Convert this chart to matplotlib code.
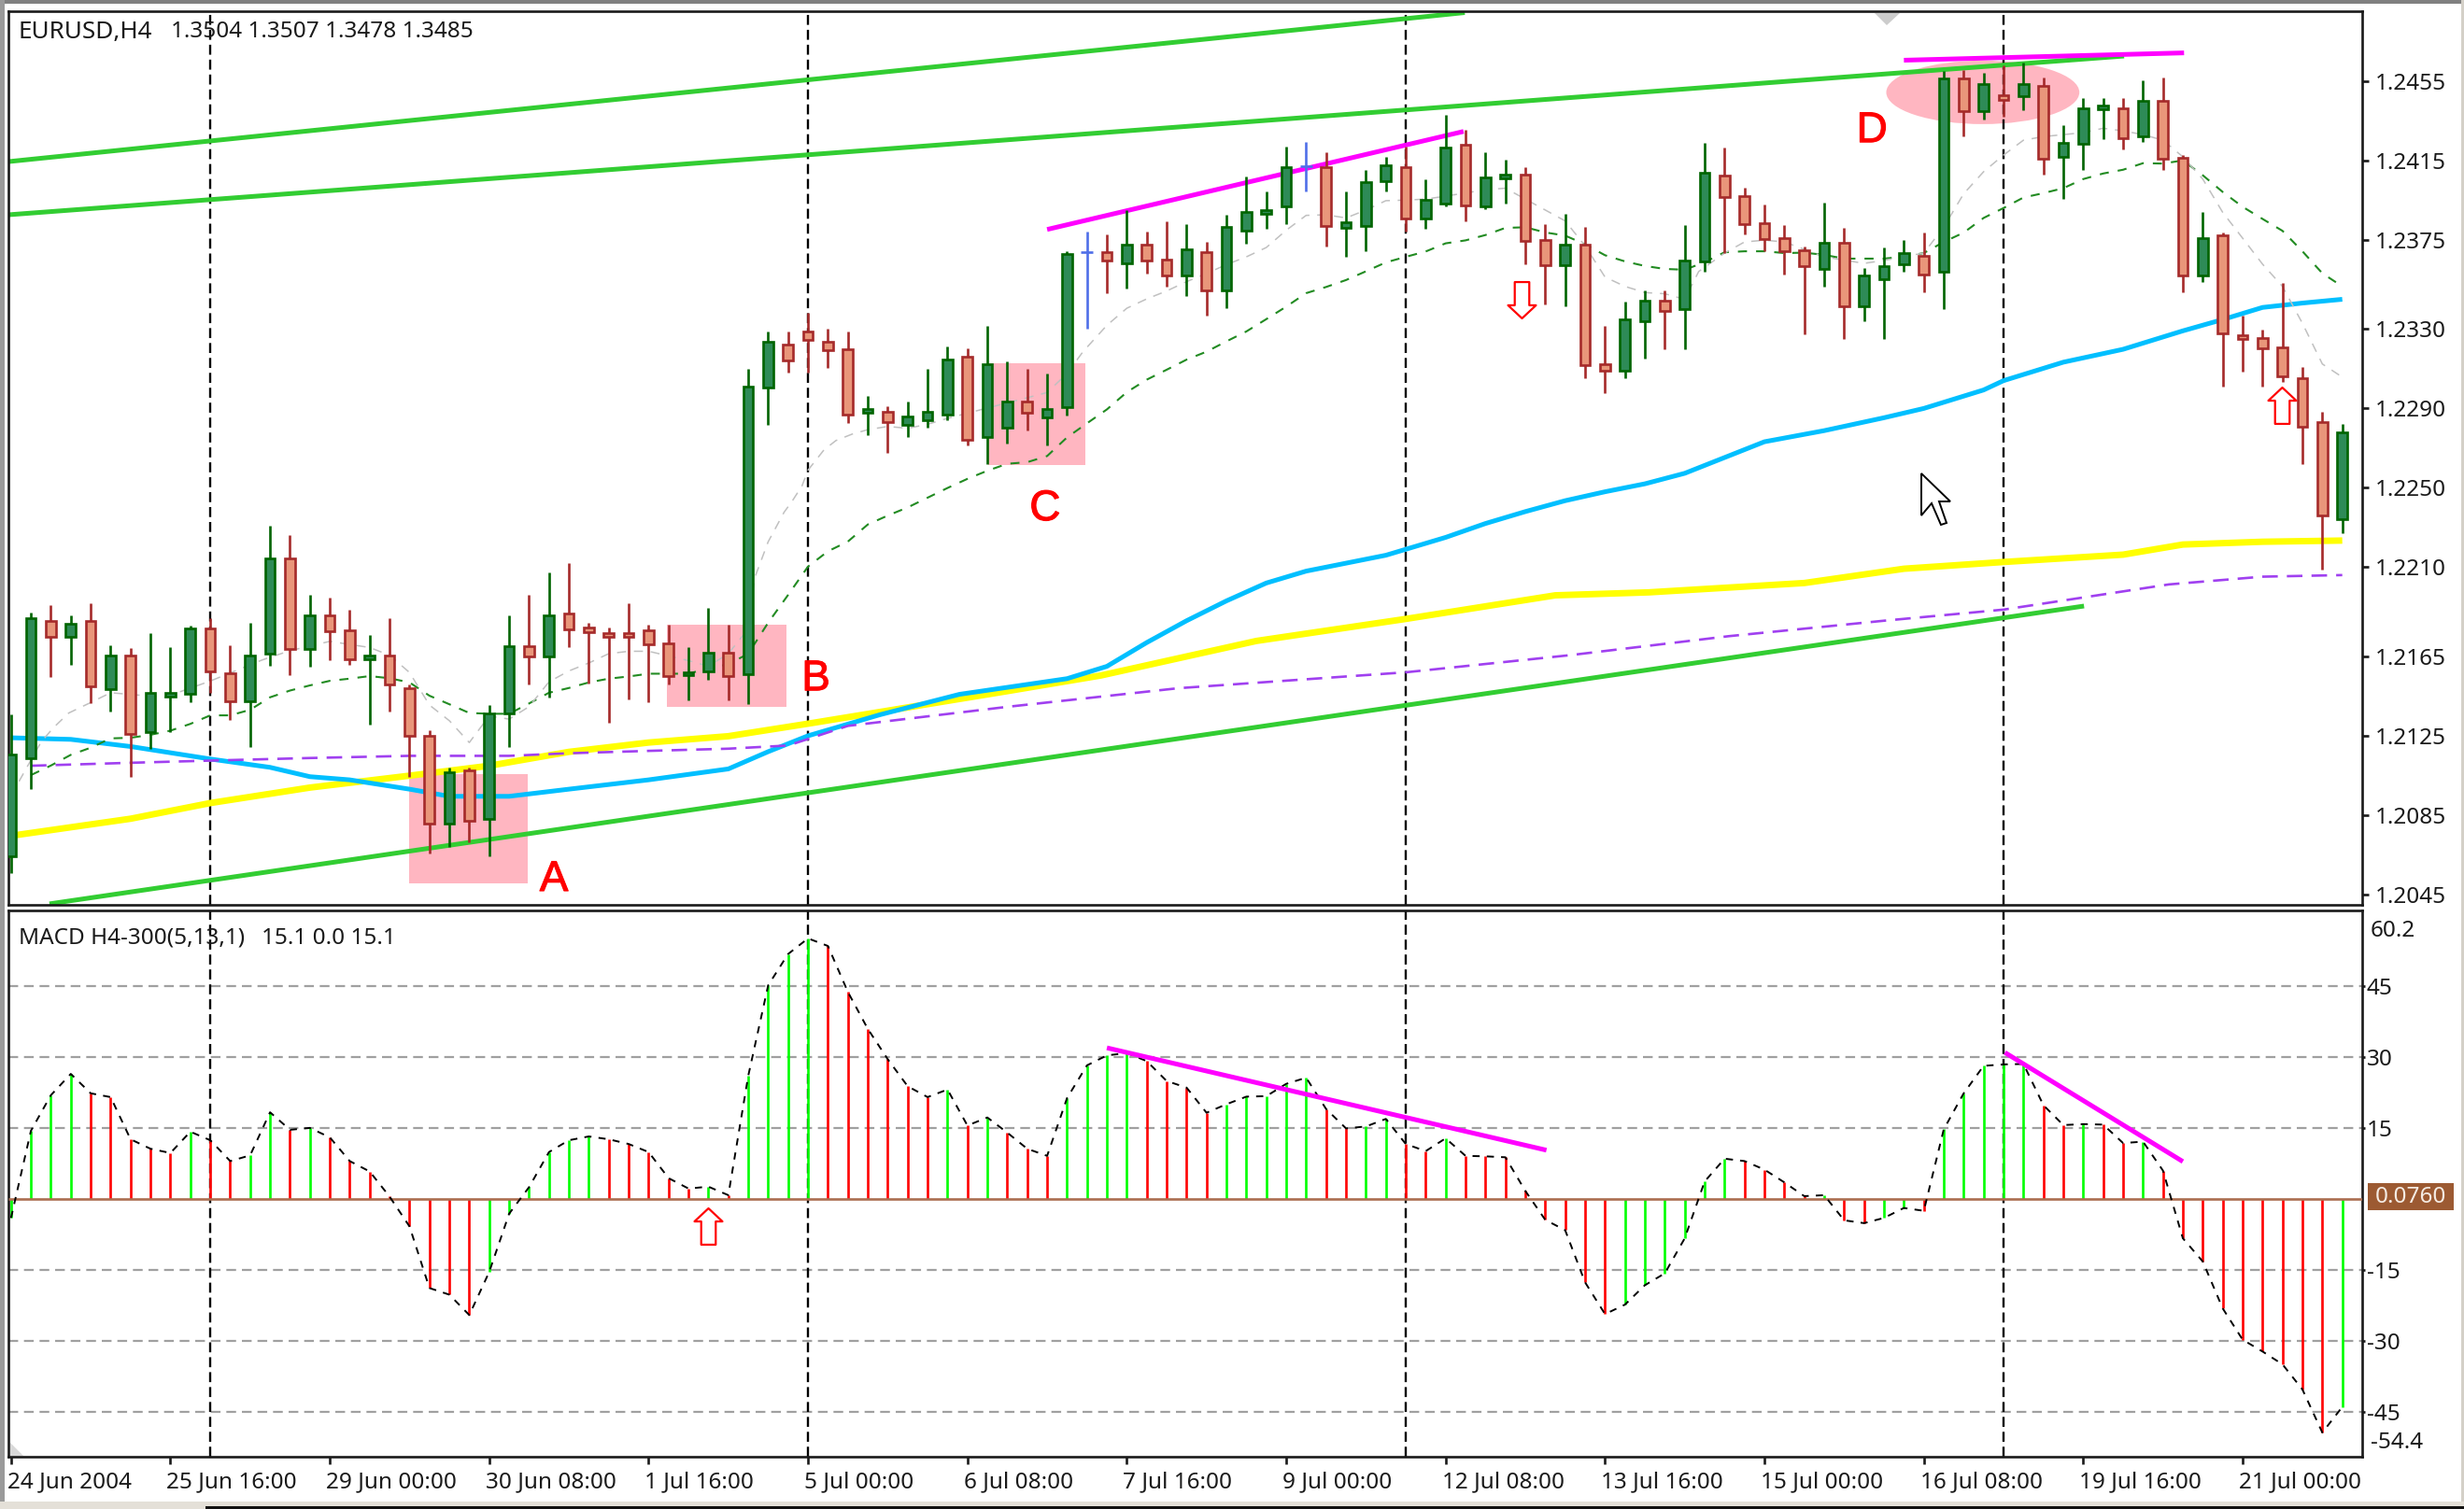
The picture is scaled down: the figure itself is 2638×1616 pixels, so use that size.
import matplotlib
matplotlib.use("Agg")
import matplotlib.pyplot as plt
import matplotlib.patheffects as pe
from matplotlib.patches import Rectangle, Ellipse, Polygon
from matplotlib.path import Path
from matplotlib.transforms import Affine2D, ScaledTranslation

W, H = 2638, 1616
plt.rcParams["font.family"] = ["Noto Sans", "DejaVu Sans"]
plt.rcParams["lines.scale_dashes"] = False
plt.rcParams["lines.solid_capstyle"] = "butt"
plt.rcParams["lines.dash_capstyle"] = "butt"

# EURUSD H4 candles, bar by bar
opens = [1.20644, 1.21138, 1.21828, 1.21750, 1.21828, 1.21486, 1.21654, 1.21271, 1.21447, 1.21463,
         1.21792, 1.21566, 1.21425, 1.21664, 1.22145, 1.21687, 1.21855, 1.21780, 1.21637, 1.21654,
         1.21491, 1.21252, 1.20809, 1.21078, 1.20832, 1.21361, 1.21703, 1.21648, 1.21868, 1.21794,
         1.21769, 1.21769, 1.21780, 1.21717, 1.21558, 1.21574, 1.21667, 1.21562, 1.23005, 1.23221,
         1.23287, 1.23237, 1.23198, 1.22878, 1.22884, 1.22817, 1.22840, 1.22867, 1.23159, 1.22754,
         1.22801, 1.22935, 1.22853, 1.22906, 1.23686, 1.23686, 1.23631, 1.23725, 1.23650, 1.23570,
         1.23688, 1.23495, 1.23795, 1.23882, 1.23920, 1.24119, 1.24115, 1.23809, 1.23821, 1.24046,
         1.24115, 1.23857, 1.23931, 1.24228, 1.23920, 1.24058, 1.24077, 1.23750, 1.23620, 1.23725,
         1.23123, 1.23092, 1.23338, 1.23444, 1.23403, 1.23642, 1.24075, 1.23972, 1.23836, 1.23758,
         1.23698, 1.23603, 1.23735, 1.23413, 1.23553, 1.23627, 1.23670, 1.23590, 1.24565, 1.24397,
         1.24478, 1.24472, 1.24526, 1.24168, 1.24233, 1.24407, 1.24414, 1.24271, 1.24452, 1.24162,
         1.23568, 1.23773, 1.23271, 1.23254, 1.23208, 1.23053, 1.22829, 1.22344]
closes = [1.21154, 1.21844, 1.21750, 1.21816, 1.21499, 1.21654, 1.21260, 1.21464, 1.21467, 1.21792,
          1.21574, 1.21425, 1.21654, 1.22145, 1.21687, 1.21855, 1.21777, 1.21637, 1.21654, 1.21511,
          1.21248, 1.20809, 1.21064, 1.20821, 1.21361, 1.21703, 1.21648, 1.21855, 1.21786, 1.21773,
          1.21748, 1.21748, 1.21711, 1.21551, 1.21569, 1.21667, 1.21551, 1.23008, 1.23235, 1.23143,
          1.23245, 1.23193, 1.22867, 1.22898, 1.22829, 1.22859, 1.22884, 1.23146, 1.22742, 1.23123,
          1.22935, 1.22880, 1.22895, 1.23677, 1.23686, 1.23645, 1.23725, 1.23645, 1.23570, 1.23700,
          1.23496, 1.23813, 1.23889, 1.23901, 1.24115, 1.24119, 1.23821, 1.23838, 1.24041, 1.24127,
          1.23857, 1.23951, 1.24217, 1.23923, 1.24064, 1.24077, 1.23746, 1.23620, 1.23725, 1.23118,
          1.23092, 1.23350, 1.23444, 1.23390, 1.23646, 1.24088, 1.23967, 1.23829, 1.23752, 1.23692,
          1.23618, 1.23735, 1.23413, 1.23571, 1.23618, 1.23683, 1.23577, 1.24565, 1.24397, 1.24537,
          1.24457, 1.24537, 1.24159, 1.24237, 1.24414, 1.24429, 1.24261, 1.24452, 1.24159, 1.23568,
          1.23758, 1.23278, 1.23250, 1.23202, 1.23064, 1.22810, 1.22359, 1.22779]
highs = [1.21358, 1.21871, 1.21907, 1.21855, 1.21919, 1.21706, 1.21692, 1.21769, 1.21695, 1.21805,
         1.21841, 1.21706, 1.21821, 1.22310, 1.22260, 1.21959, 1.21946, 1.21883, 1.21758, 1.21844,
         1.21511, 1.21279, 1.21091, 1.21091, 1.21405, 1.21857, 1.21959, 1.22072, 1.22122, 1.21821,
         1.21794, 1.21919, 1.21808, 1.21808, 1.21695, 1.21896, 1.21808, 1.23099, 1.23287, 1.23287,
         1.23381, 1.23300, 1.23287, 1.22961, 1.22911, 1.22937, 1.23099, 1.23212, 1.23201, 1.23314,
         1.23139, 1.23100, 1.23076, 1.23691, 1.23790, 1.23779, 1.23900, 1.23790, 1.23842, 1.23829,
         1.23740, 1.23876, 1.24068, 1.23994, 1.24218, 1.24245, 1.24193, 1.23994, 1.24104, 1.24166,
         1.24218, 1.24053, 1.24381, 1.24303, 1.24193, 1.24155, 1.24116, 1.23829, 1.23879, 1.23816,
         1.23314, 1.23440, 1.23497, 1.23497, 1.23823, 1.24239, 1.24215, 1.24013, 1.23926, 1.23823,
         1.23717, 1.23939, 1.23810, 1.23609, 1.23711, 1.23748, 1.23786, 1.24600, 1.24606, 1.24591,
         1.24629, 1.24644, 1.24569, 1.24327, 1.24466, 1.24466, 1.24466, 1.24556, 1.24569, 1.24177,
         1.23888, 1.23786, 1.23366, 1.23297, 1.23534, 1.23109, 1.22881, 1.22820]
lows = [1.20558, 1.20981, 1.21546, 1.21609, 1.21413, 1.21370, 1.21044, 1.21185, 1.21271, 1.21420,
        1.21467, 1.21331, 1.21193, 1.21601, 1.21558, 1.21598, 1.21632, 1.21609, 1.21307, 1.21370,
        1.21041, 1.20659, 1.20691, 1.20714, 1.20644, 1.21193, 1.21510, 1.21444, 1.21695, 1.21515,
        1.21318, 1.21433, 1.21420, 1.21507, 1.21431, 1.21533, 1.21431, 1.21408, 1.22817, 1.23079,
        1.23079, 1.23104, 1.22828, 1.22765, 1.22677, 1.22754, 1.22801, 1.22840, 1.22715, 1.22621,
        1.22723, 1.22789, 1.22715, 1.22864, 1.23303, 1.23481, 1.23504, 1.23578, 1.23515, 1.23465,
        1.23366, 1.23405, 1.23730, 1.23805, 1.23829, 1.23994, 1.23716, 1.23664, 1.23691, 1.23994,
        1.23793, 1.23805, 1.23920, 1.23842, 1.23904, 1.23931, 1.23628, 1.23426, 1.23416, 1.23052,
        1.22977, 1.23052, 1.23152, 1.23198, 1.23198, 1.23590, 1.23683, 1.23776, 1.23692, 1.23575,
        1.23273, 1.23512, 1.23250, 1.23338, 1.23250, 1.23590, 1.23487, 1.23400, 1.24270, 1.24355,
        1.24370, 1.24405, 1.24079, 1.23954, 1.24103, 1.24258, 1.24205, 1.24243, 1.24103, 1.23487,
        1.23538, 1.23008, 1.23086, 1.23008, 1.23034, 1.22620, 1.22089, 1.22269]

# moving averages: bar numbers and prices
yellow_x = [0, 6, 10, 15, 20, 24, 28, 32, 36, 40, 50, 54.7, 62.5, 70, 77.5, 82.2, 90, 95, 100, 106, 109, 113, 117]
yellow_y = [1.20746, 1.20832, 1.20911, 1.20989, 1.21049, 1.21099, 1.21169, 1.21216, 1.21248, 1.21311, 1.21475,
            1.21554, 1.21728, 1.21839, 1.21958, 1.21973, 1.22020, 1.22092, 1.22126, 1.22163, 1.22214, 1.22228, 1.22234]
blue_x = [0, 3, 6, 10, 13, 15, 17, 20, 22, 25, 28, 32, 36, 38, 40, 43.6, 47.6, 53, 55, 57, 59, 61, 63, 65, 67, 69,
          72, 74, 76, 78, 80, 82, 84, 88, 91, 94, 96, 99, 100, 103, 106, 109, 111, 113, 115, 117]
blue_y = [1.21240, 1.21232, 1.21196, 1.21133, 1.21091, 1.21044, 1.21028, 1.20981, 1.20945, 1.20945, 1.20981,
          1.21028, 1.21083, 1.21170, 1.21250, 1.21356, 1.21459, 1.21538, 1.21600, 1.21720, 1.21830, 1.21930,
          1.22020, 1.22080, 1.22120, 1.22160, 1.22250, 1.22320, 1.22380, 1.22435, 1.22480, 1.22520, 1.22573,
          1.22732, 1.22788, 1.22853, 1.22900, 1.22993, 1.23040, 1.23133, 1.23198, 1.23291, 1.23348, 1.23409,
          1.23431, 1.23450]
purple_x = [1, 6, 10, 15, 20, 25, 28, 32, 36, 39, 42, 50, 58.6, 70, 78.3, 86.2, 94, 100, 108.3, 113, 117]
purple_y = [1.21099, 1.21114, 1.21125, 1.21138, 1.21149, 1.21149, 1.21162, 1.21174, 1.21185, 1.21201, 1.21300,
            1.21396, 1.21490, 1.21570, 1.21657, 1.21752, 1.21830, 1.21886, 1.22013, 1.22052, 1.22060]
ma_green = [None, 1.21052, 1.21100, 1.21154, 1.21190, 1.21237, 1.21240, 1.21255, 1.21276, 1.21310,
            1.21353, 1.21353, 1.21381, 1.21444, 1.21478, 1.21504, 1.21527, 1.21538, 1.21551, 1.21540,
            1.21519, 1.21452, 1.21409, 1.21365, 1.21361, 1.21361, 1.21413, 1.21467, 1.21491, 1.21519,
            1.21538, 1.21549, 1.21563, 1.21563, 1.21563, 1.21590, 1.21610, 1.21664, 1.21820, 1.21960,
            1.22103, 1.22180, 1.22229, 1.22315, 1.22360, 1.22401, 1.22450, 1.22499, 1.22545, 1.22586,
            1.22621, 1.22629, 1.22660, 1.22754, 1.22825, 1.22895, 1.22982, 1.23045, 1.23095, 1.23146,
            1.23186, 1.23238, 1.23288, 1.23350, 1.23413, 1.23481, 1.23512, 1.23547, 1.23591, 1.23636,
            1.23664, 1.23691, 1.23732, 1.23747, 1.23774, 1.23810, 1.23813, 1.23787, 1.23771, 1.23727,
            1.23672, 1.23641, 1.23618, 1.23603, 1.23599, 1.23637, 1.23687, 1.23692, 1.23692, 1.23683,
            1.23685, 1.23674, 1.23655, 1.23655, 1.23655, 1.23665, 1.23683, 1.23739, 1.23786, 1.23860,
            1.23910, 1.23963, 1.23985, 1.24010, 1.24056, 1.24084, 1.24103, 1.24136, 1.24134, 1.24150,
            1.24075, 1.23991, 1.23916, 1.23855, 1.23795, 1.23692, 1.23581, 1.23515]
ma_gray_x = [0.4, 1.5, 2.1, 2.9, 3.9, 5, 7.7, 10, 12.6, 14, 16, 18, 19, 20, 21, 22, 23, 24, 25, 26, 27, 28, 29, 30,
             31, 32, 34, 35, 36, 37, 37.3, 38, 38.8, 39.2, 39.7, 40, 40.8, 41.4, 42.2, 43, 44, 45, 46, 47, 52,
             53, 53.8, 55, 56, 57, 58, 59, 60, 61, 62, 63, 64, 65, 66, 67, 68, 69, 70, 71, 72, 73, 74, 75, 76,
             77, 78, 79, 80, 81, 82, 83, 84, 84.7, 86, 87, 88, 89, 90, 91, 93, 94, 96, 97, 98, 99, 100, 101, 102,
             103, 104, 105, 106, 107, 108, 109, 110, 111, 112, 113, 114, 115, 116, 117]
ma_gray_y = [1.21020, 1.21217, 1.21288, 1.21365, 1.21413, 1.21467, 1.21444, 1.21526, 1.21632, 1.21679, 1.21726,
             1.21695, 1.21656, 1.21569, 1.21405, 1.21326, 1.21216, 1.21350, 1.21334, 1.21397, 1.21522, 1.21577,
             1.21617, 1.21664, 1.21676, 1.21676, 1.21629, 1.21601, 1.21664, 1.21789, 1.22040, 1.22228, 1.22377,
             1.22432, 1.22510, 1.22589, 1.22691, 1.22738, 1.22770, 1.22793, 1.22809, 1.22800, 1.22820, 1.22850,
             1.22980, 1.23076, 1.23186, 1.23319, 1.23405, 1.23452, 1.23492, 1.23539, 1.23580, 1.23625, 1.23664,
             1.23711, 1.23798, 1.23873, 1.23876, 1.23860, 1.23900, 1.23947, 1.23950, 1.23955, 1.23970, 1.23986,
             1.24002, 1.24010, 1.23955, 1.23900, 1.23845, 1.23719, 1.23562, 1.23515, 1.23484, 1.23478, 1.23450,
             1.23590, 1.23683, 1.23739, 1.23748, 1.23739, 1.23702, 1.23664, 1.23631, 1.23646, 1.23683, 1.23814,
             1.23982, 1.24093, 1.24177, 1.24252, 1.24270, 1.24280, 1.24290, 1.24312, 1.24299, 1.24280, 1.24252,
             1.24168, 1.24056, 1.23888, 1.23758, 1.23627, 1.23515, 1.23329, 1.23124, 1.23058]

# trend lines: (bar, price) ends
channel_top_x = [-0.13, 72.96]
channel_top_y = [1.24144, 1.24895]
channel_mid_x = [-0.13, 106.05]
channel_mid_y = [1.23876, 1.24676]
channel_low_x = [1.93, 104.04]
channel_low_y = [1.20403, 1.21904]
magenta1_x = [52.0, 72.9]
magenta1_y = [1.23802, 1.24296]
magenta2_x = [95.0, 109.06]
magenta2_y = [1.24655, 1.24692]

# MACD histogram values
macd = [-4.0, 14.4, 21.9, 26.4, 22.3, 21.5, 12.6, 10.6, 9.7, 14.2, 12.4, 8.0, 9.2, 18.3, 14.6, 15.0, 13.0, 8.0,
        5.8, 0.5, -5.8, -18.8, -20.2, -24.5, -15.4, -3.1, 2.5, 9.9, 12.4, 13.2, 12.6, 11.6, 9.9, 4.4, 2.2, 2.6,
        0.8, 26.0, 45.1, 51.7, 55.0, 53.4, 43.7, 35.9, 29.5, 23.8, 21.5, 23.1, 15.5, 17.2, 14.0, 10.6, 9.1, 21.3,
        28.2, 30.3, 30.8, 29.1, 24.9, 23.5, 18.2, 20.0, 21.6, 21.7, 24.3, 25.6, 19.0, 14.9, 15.3, 16.9, 11.6, 10.1,
        12.8, 9.1, 9.0, 8.8, 1.7, -4.4, -6.6, -17.6, -24.3, -22.3, -18.2, -15.7, -8.3, 3.7, 8.5, 8.0, 6.2, 3.5,
        0.6, 0.8, -4.5, -5.1, -4.0, -1.9, -2.5, 14.7, 22.3, 28.1, 28.4, 28.5, 19.8, 15.6, 15.8, 15.7, 11.8, 12.1,
        6.0, -8.3, -13.2, -23.1, -29.7, -32.2, -34.9, -40.2, -49.3, -43.9]
macd_line1_x = [55.0, 77.06]
macd_line1_y = [31.9, 10.3]
macd_line2_x = [100.07, 109.0]
macd_line2_y = [30.9, 7.9]

price_ticks = [1.2045, 1.2085, 1.2125, 1.2165, 1.2210, 1.2250, 1.2290, 1.2330, 1.2375, 1.2415, 1.2455]
macd_ticks = [45, 30, 15, -15, -30, -45]
separators = [10, 40, 70, 100]
date_ticks = list(range(0, 113, 8))
date_labels = ["24 Jun 2004", "25 Jun 16:00", "29 Jun 00:00", "30 Jun 08:00", "1 Jul 16:00", "5 Jul 00:00",
               "6 Jul 08:00", "7 Jul 16:00", "9 Jul 00:00", "12 Jul 08:00", "13 Jul 16:00", "15 Jul 00:00",
               "16 Jul 08:00", "19 Jul 16:00", "21 Jul 00:00"]

fig = plt.figure(figsize=(W / 100, H / 100), dpi=100, facecolor="white")
px = Affine2D().scale(1 / W, -1 / H).translate(0, 1) + fig.transFigure


def panel(top, bottom):
    ax = fig.add_axes([9 / W, 1 - bottom / H, 2520 / W, (bottom - top) / H])
    ax.set_xlim(-0.131, 118.0)
    for s in ax.spines.values():
        s.set_linewidth(1.9)
        s.set_color("#1a1a1a")
    ax.yaxis.tick_right()
    return ax


ax = panel(12, 969)
ax.set_ylim(1.20398, 1.24902)
sub = panel(975, 1560)
sub.set_ylim(-54.4, 60.9)

FS = 17.5
LINE = 1.9

# pink zones under everything
pink = "#ffb6c1"
ax.add_patch(Rectangle((19.97, 1.20506), 5.97, 0.00550, color=pink, lw=0, zorder=1))
ax.add_patch(Rectangle((32.94, 1.21394), 5.97, 0.00415, color=pink, lw=0, zorder=1))
ax.add_patch(Rectangle((49.02, 1.22613), 4.89, 0.00513, color=pink, lw=0, zorder=1))
ax.add_patch(Ellipse((98.96, 1.24493), 9.69, 0.00320, color=pink, lw=0, zorder=1))

for s in separators:
    for a in (ax, sub):
        a.axvline(s, color="black", lw=1.7, ls=(0, (7.7, 3.8)), zorder=1.5)

ax.plot(channel_top_x, channel_top_y, color="#32cd32", lw=3.6, zorder=2)
ax.plot(channel_mid_x, channel_mid_y, color="#32cd32", lw=3.6, zorder=2)
ax.plot(channel_low_x, channel_low_y, color="#32cd32", lw=3.6, zorder=2)
ax.plot(yellow_x, yellow_y, color="#ffff00", lw=5.0, zorder=2.2)
ax.plot(blue_x, blue_y, color="#00bfff", lw=3.6, zorder=2.3)
ax.plot(purple_x, purple_y, color="#a040f0", lw=1.9, ls=(0, (12, 7)), zorder=2.4)
ax.plot(range(len(ma_green)), [v if v else float("nan") for v in ma_green], color="#228b22", lw=1.5,
        ls=(0, (7, 7)), zorder=2.5)
ax.plot(ma_gray_x, ma_gray_y, color="#c0c0c0", lw=1.1, ls=(0, (7, 6)), zorder=2.5)
ax.plot(magenta1_x, magenta1_y, color="#ff00ff", lw=3.6, zorder=2.6)
ax.plot(magenta2_x, magenta2_y, color="#ff00ff", lw=3.6, zorder=2.6)

# candles
for i in range(len(opens)):
    o, h, l, c = opens[i], highs[i], lows[i], closes[i]
    if c == o:
        ax.vlines(i, l, h, color="#4f6fe8", lw=LINE, zorder=5)
        ax.hlines(c, i - 0.3, i + 0.3, color="#4f6fe8", lw=LINE, zorder=5)
        continue
    up = c > o
    edge = "#006400" if up else "#a52a2a"
    fill = "#2e8b57" if up else "#e9967a"
    ax.vlines(i, l, h, color=edge, lw=LINE, zorder=5)
    ax.add_patch(Rectangle((i - 0.25, min(o, c)), 0.5, abs(c - o), facecolor=fill, edgecolor=edge, lw=LINE, zorder=6))

# hollow arrows
arrow = Path([(-0.2, 0.5), (0.2, 0.5), (0.2, -0.14), (0.385, -0.14), (0, -0.5), (-0.385, -0.14), (-0.2, -0.14),
              (-0.2, 0.5)], closed=True)
arrow_up = Path(arrow.vertices * [1, -1], closed=True)
ax.plot([75.8], [1.23448], marker=arrow, ms=28, mfc="white", mec="red", mew=1.6, zorder=7, ls="none")
ax.plot([113.95], [1.22916], marker=arrow_up, ms=28, mfc="white", mec="red", mew=1.6, zorder=7, ls="none")
sub.plot([34.96], [-5.7], marker=arrow_up, ms=28, mfc="white", mec="red", mew=1.6, zorder=7, ls="none")

# zone letters
bolder = [pe.withStroke(linewidth=0.8, foreground="red")]
for x, y, s in [(27.25, 1.20525, "A"), (40.4, 1.21536, "B"), (51.9, 1.22393, "C"), (93.4, 1.24299, "D")]:
    ax.text(x, y, s, color="red", fontsize=33, family="Liberation Sans", ha="center", va="center", zorder=8,
            path_effects=bolder)

# MACD pane
for t in macd_ticks:
    sub.axhline(t, color="#a0a0a0", lw=1.6, ls=(0, (7.5, 4.5)), zorder=1)
for i, v in enumerate(macd):
    prev = macd[i - 1] if i else v - 1
    sub.vlines(i, 0, v, color="#00ff00" if v >= prev else "#ff0000", lw=1.9, zorder=2)
sub.axhline(0, color="#ab6e50", lw=1.9, zorder=3)
sub.plot(range(len(macd)), macd, color="black", lw=1.4, ls=(0, (5.5, 5.5)), zorder=4)
sub.plot(macd_line1_x, macd_line1_y, color="#ff00ff", lw=3.6, zorder=5)
sub.plot(macd_line2_x, macd_line2_y, color="#ff00ff", lw=3.6, zorder=5)

# axes ticks
ax.set_yticks(price_ticks, ["%.4f" % p for p in price_ticks], fontsize=FS)
ax.tick_params(axis="y", length=4.8, width=1.9, pad=5, colors="#1a1a1a")
ax.set_xticks([])
sub.set_yticks(macd_ticks, [str(t) for t in macd_ticks], fontsize=FS)
sub.tick_params(axis="y", length=2, width=1.9, pad=1.5, colors="#1a1a1a")
sub.set_xticks(date_ticks, date_labels, fontsize=FS, ha="left")
sub.tick_params(axis="x", length=5.8, width=1.9, pad=5.5, colors="#1a1a1a")
shift = ScaledTranslation(-4 / 100, 0, fig.dpi_scale_trans)
for lab in sub.get_xticklabels():
    lab.set_transform(lab.get_transform() + shift)

txt = "#1a1a1a"
fig.text(20, 34, "EURUSD,H4", transform=px, fontsize=18.8, color=txt, va="center")
fig.text(183, 34, "1.3504 1.3507 1.3478 1.3485", transform=px, fontsize=FS, color=txt, va="center")
fig.text(20, 1005, "MACD H4-300(5,13,1)", transform=px, fontsize=FS, color=txt, va="center")
fig.text(280, 1005, "15.1 0.0 15.1", transform=px, fontsize=FS, color=txt, va="center")
fig.text(2538, 997, "60.2", transform=px, fontsize=FS, color=txt, va="center")
fig.text(2538, 1545, "-54.4", transform=px, fontsize=FS, color=txt, va="center")

# current value tag
fig.add_artist(Rectangle((2535, 1267), 92, 29, transform=px, color="#9c5a32", lw=0))
fig.text(2581, 1282, "0.0760", transform=px, fontsize=FS, color="#f5ece4", ha="center", va="center")

# window furniture
fig.add_artist(Rectangle((0, 0), W, 4, transform=px, color="#808080", lw=0))
fig.add_artist(Rectangle((0, 0), 5, 1608, transform=px, color="#9a9a9a", lw=0))
fig.add_artist(Rectangle((2635, 0), 3, H, transform=px, color="#d4d0c8", lw=0))
fig.add_artist(Rectangle((0, 1608), W, 8, transform=px, color="#e4e0d8", lw=0))
fig.add_artist(Rectangle((220, 1613), W - 220, 3, transform=px, color="#111111", lw=0))

# chart shift marker, corner marker, mouse cursor
fig.add_artist(Polygon([(2007, 14), (2034, 14), (2020, 27)], transform=px, color="#cccccc", lw=0))
fig.add_artist(Polygon([(11, 1545), (11, 1559), (25, 1559)], transform=px, color="#d8d8d8", lw=0))
fig.add_artist(Polygon([(2057, 507), (2057, 552), (2068, 539), (2078, 562), (2084, 560), (2076, 537), (2088, 537)],
                       transform=px, facecolor="white", edgecolor="black", lw=1.4, zorder=20))

fig.savefig("out.png", dpi=100)
